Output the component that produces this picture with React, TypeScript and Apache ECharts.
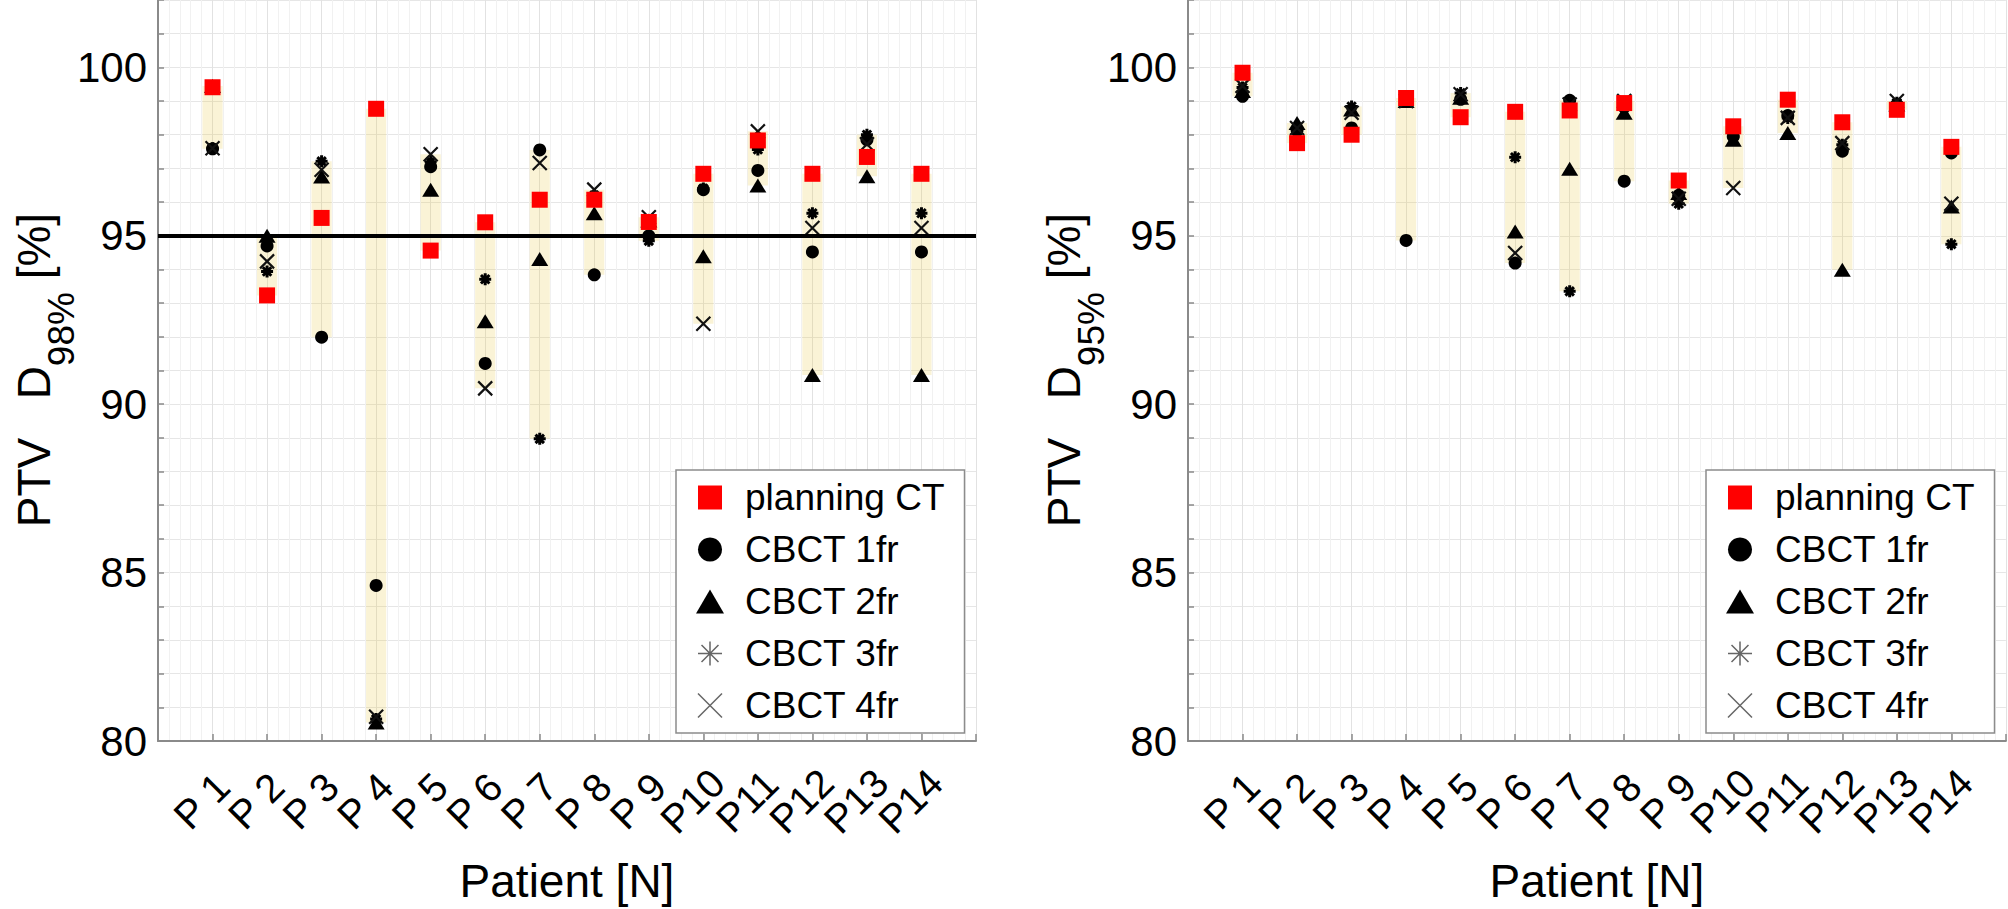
import React, { useEffect, useRef } from 'react';
import * as echarts from 'echarts';

// ---------- data ----------
const patients = ['P 1', 'P 2', 'P 3', 'P 4', 'P 5', 'P 6', 'P 7', 'P 8', 'P 9', 'P10', 'P11', 'P12', 'P13', 'P14'];
const seriesNames = ['planning CT', 'CBCT 1fr', 'CBCT 2fr', 'CBCT 3fr', 'CBCT 4fr'];

// PTV D98% [%]
const planningCT98 = [99.41, 93.23, 95.53, 98.77, 94.56, 95.40, 96.07, 96.07, 95.41, 96.84, 97.83, 96.84, 97.34, 96.84];
const cbct1fr98 = [97.58, 94.70, 91.99, 84.62, 97.05, 91.21, 97.55, 93.84, 95.00, 96.37, 96.94, 94.52, 97.85, 94.52];
const cbct2fr98 = [99.45, 95.00, 96.76, 80.55, 96.37, 92.46, 94.31, 95.67, 95.45, 94.39, 96.49, 90.87, 96.77, 90.87];
const cbct3fr98 = [97.60, 93.94, 97.21, 80.65, 97.20, 93.71, 88.97, 96.20, 94.85, 96.40, 97.56, 95.67, 98.00, 95.67];
const cbct4fr98 = [97.60, 94.24, 96.96, 80.72, 97.42, 90.47, 97.16, 96.37, 95.55, 92.39, 98.10, 95.23, 97.72, 95.23];

// PTV D95% [%]
const planningCT95 = [99.84, 97.75, 98.00, 99.09, 98.52, 98.68, 98.72, 98.94, 96.64, 98.25, 99.04, 98.37, 98.74, 97.64];
const cbct1fr95 = [99.14, 98.15, 98.20, 94.86, 99.05, 94.19, 99.02, 96.62, 96.20, 97.95, 98.57, 97.51, 98.90, 97.46];
const cbct2fr95 = [99.30, 98.35, 98.75, 99.00, 99.10, 95.13, 96.99, 98.65, 96.27, 97.85, 98.05, 93.99, 98.90, 95.87];
const cbct3fr95 = [99.40, 98.10, 98.84, 99.00, 99.24, 97.33, 93.35, 98.80, 95.95, 97.95, 98.50, 97.70, 98.95, 94.75];
const cbct4fr95 = [99.45, 98.20, 98.65, 99.00, 99.20, 94.49, 98.90, 99.00, 96.10, 96.42, 98.50, 97.75, 99.00, 95.95];

const threshold98 = 95;
const yTickLabels = [80, 85, 90, 95, 100];
const yTitleSubs = ['98%', '95%'];
const xTitle = 'Patient [N]';

// ---------- styles ----------
const FONT = "'Liberation Sans', Arial, Helvetica, sans-serif";
const AXIS_GRAY = '#8a8a8a';
const BAND_COLOR = 'rgba(230, 200, 70, 0.22)';
const STAR_PATH = 'path://M6,0 L6,12 M0,6 L12,6 M1.76,1.76 L10.24,10.24 M1.76,10.24 L10.24,1.76';
const X_PATH = 'path://M0,0 L14,14 M0,14 L14,0';
const SQUARE_PATH = 'path://M0,0 L10,0 L10,10 L0,10 Z';

function bandData(arrs: number[][]) {
  return patients.map((_, i) => {
    const vals = arrs.map((a) => a[i]);
    return [i + 1, Math.min(...vals), Math.max(...vals)];
  });
}

function toPoints(arr: number[]) {
  return arr.map((v, i) => [i + 1, v]);
}

function makeAxes(k: number, left: number, width: number) {
  const grid = { left, top: 0, width, height: 741, containLabel: false };
  const xAxis = {
    gridIndex: k,
    type: 'value',
    min: 0,
    max: patients.length + 1,
    interval: 1,
    name: xTitle,
    nameLocation: 'middle',
    nameGap: 117,
    nameMoveOverlap: false,
    nameTextStyle: { fontSize: 46, color: '#000', fontFamily: FONT },
    axisLine: { show: true, onZero: false, lineStyle: { color: AXIS_GRAY, width: 2 } },
    axisTick: { show: true, inside: true, length: 7, lineStyle: { color: AXIS_GRAY, width: 1.5 } },
    minorTick: { show: false, splitNumber: 5 },
    axisLabel: {
      rotate: 45,
      margin: 49,
      align: 'center',
      verticalAlign: 'middle',
      color: '#000',
      formatter: (v: number) => (patients[v - 1] ? `{a|${patients[v - 1]}}` : ''),
      rich: {
        a: { fontSize: 40, color: '#000', fontFamily: FONT, padding: [0, 31, 0, 0] },
      },
    },
    splitLine: { show: true, lineStyle: { color: '#e2e2e2', width: 1 } },
    minorSplitLine: { show: true, lineStyle: { color: '#f1f1f1', width: 1 } },
  };
  const yAxis = {
    gridIndex: k,
    type: 'value',
    min: 80,
    max: 102,
    interval: 1,
    axisLine: { show: true, onZero: false, lineStyle: { color: AXIS_GRAY, width: 2 } },
    axisTick: { show: true, inside: true, length: 6, lineStyle: { color: AXIS_GRAY, width: 1.5 } },
    axisLabel: {
      margin: 11,
      fontSize: 42,
      color: '#000',
      fontFamily: FONT,
      formatter: (v: number) => (yTickLabels.includes(v) ? String(v) : ''),
    },
    splitLine: { show: true, lineStyle: { color: '#e6e6e6', width: 1 } },
  };
  return { grid, xAxis, yAxis };
}

function makeSeries(k: number, arrs: number[][], withLine: boolean) {
  const [plan, c1, c2, c3, c4] = arrs;
  const common = { type: 'scatter', xAxisIndex: k, yAxisIndex: k, silent: true };
  const out: any[] = [
    { ...common, name: 'CBCT 1fr', data: toPoints(c1), symbol: 'circle', symbolSize: 13, itemStyle: { color: '#000', opacity: 1 } },
    { ...common, name: 'CBCT 2fr', data: toPoints(c2), symbol: 'triangle', symbolSize: [17, 14], itemStyle: { color: '#000', opacity: 1 } },
    {
      ...common, name: 'CBCT 3fr', data: toPoints(c3), symbol: STAR_PATH, symbolSize: 12,
      itemStyle: { color: '#000', borderColor: '#000', borderWidth: 3, opacity: 1 },
    },
    {
      ...common, name: 'CBCT 4fr', data: toPoints(c4), symbol: X_PATH, symbolSize: 14,
      itemStyle: { color: '#000', borderColor: '#111', borderWidth: 2.2, opacity: 1 },
    },
    {
      type: 'custom',
      name: 'range',
      xAxisIndex: k,
      yAxisIndex: k,
      silent: true,
      encode: { x: 0, y: [1, 2] },
      data: bandData([plan, c1, c2, c3, c4]),
      renderItem: (params: any, api: any) => {
        const x = api.value(0);
        const top = api.coord([x, api.value(2)]);
        const bot = api.coord([x, api.value(1)]);
        const w = api.size([0.37, 0])[0];
        return {
          type: 'rect',
          shape: { x: top[0] - w / 2, y: top[1], width: w, height: bot[1] - top[1] },
          style: { fill: BAND_COLOR },
        };
      },
    },
    {
      ...common,
      name: 'planning CT',
      data: toPoints(plan),
      symbol: 'rect',
      symbolSize: 16,
      itemStyle: { color: '#ff0000', opacity: 1 },
      markLine: withLine
        ? {
            silent: true,
            symbol: 'none',
            label: { show: false },
            lineStyle: { color: '#000', width: 4, type: 'solid', opacity: 1 },
            data: [{ yAxis: threshold98 }],
          }
        : undefined,
    },
  ];
  return out;
}

function makeLegend(left: number) {
  return {
    orient: 'vertical',
    left,
    top: 470,
    selectedMode: false,
    itemWidth: 28,
    itemHeight: 24,
    itemGap: 15,
    padding: [9, 20, 9, 20],
    borderColor: '#8c8c8c',
    borderWidth: 1.5,
    backgroundColor: '#fff',
    data: [
      { name: seriesNames[0], icon: SQUARE_PATH, itemStyle: { color: '#ff0000', opacity: 1 } },
      { name: seriesNames[1], itemStyle: { opacity: 1 } },
      { name: seriesNames[2], itemStyle: { opacity: 1 } },
      { name: seriesNames[3], itemStyle: { borderColor: '#666', borderWidth: 1.5, opacity: 1 } },
      { name: seriesNames[4], itemStyle: { borderColor: '#666', borderWidth: 1.5, opacity: 1 } },
    ],
    formatter: (n: string) => `{t|${n}}`,
    textStyle: {
      color: '#000',
      rich: { t: { fontSize: 37, lineHeight: 36, padding: [0, 0, 0, 16], color: '#000', fontFamily: FONT } },
    },
  };
}

function yTitle(x: number, sub: string) {
  return {
    type: 'text',
    x,
    y: 370,
    rotation: Math.PI / 2,
    silent: true,
    style: {
      text: `{m|PTV   D}{s|${sub}}{m| [%]}`,
      align: 'center',
      verticalAlign: 'middle',
      rich: {
        m: { fontSize: 46, lineHeight: 46, verticalAlign: 'top', fill: '#000', fontFamily: FONT },
        s: { fontSize: 37, lineHeight: 37, verticalAlign: 'top', padding: [32, 0, 0, 0], fill: '#000', fontFamily: FONT },
      },
    },
  };
}

export default function App() {
  const ref = useRef<HTMLDivElement>(null);
  useEffect(() => {
    if (!ref.current) return;
    const chart = echarts.init(ref.current, null, { renderer: 'svg' });
    const a0 = makeAxes(0, 158, 818);
    const a1 = makeAxes(1, 1188, 820);
    const arr98 = [planningCT98, cbct1fr98, cbct2fr98, cbct3fr98, cbct4fr98];
    const arr95 = [planningCT95, cbct1fr95, cbct2fr95, cbct3fr95, cbct4fr95];
    chart.setOption({
      animation: false,
      backgroundColor: '#fff',
      textStyle: { fontFamily: FONT },
      grid: [a0.grid, a1.grid],
      xAxis: [a0.xAxis, a1.xAxis],
      yAxis: [a0.yAxis, a1.yAxis],
      legend: [makeLegend(676), makeLegend(1706)],
      graphic: [yTitle(34, yTitleSubs[0]), yTitle(1064, yTitleSubs[1])],
      series: [...makeSeries(0, arr98, true), ...makeSeries(1, arr95, false)],
    });
    return () => chart.dispose();
  }, []);
  return (
    <div
      ref={ref}
      style={{ position: 'fixed', left: 0, top: 0, width: 2008, height: 909, background: '#fff' }}
    />
  );
}
